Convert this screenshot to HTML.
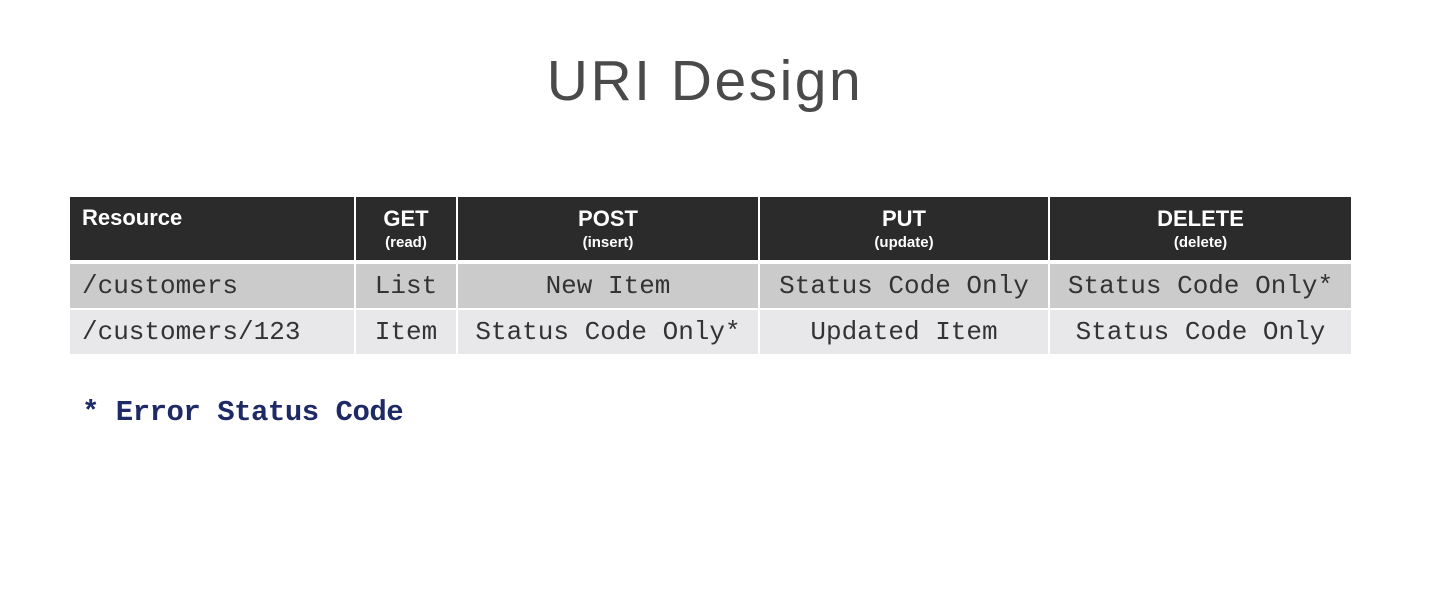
<!DOCTYPE html>
<html><head><style>
body{margin:0;width:1445px;height:599px;background:#fff;position:relative;overflow:hidden;font-family:"Liberation Sans",sans-serif}
.t{position:absolute;left:0;width:1410px;top:48px;text-align:center;font-size:57px;color:#4a4a4a;letter-spacing:2.5px}
.c{position:absolute;box-sizing:border-box;display:flex;align-items:center;justify-content:center;overflow:hidden;white-space:nowrap}
.h{background:#2b2b2b;color:#fff;flex-direction:column;font-weight:bold;line-height:1}
.h b{font-size:22px}
.h i{font-style:normal;font-size:15px;margin-top:5px}
.r1{background:#cbcbcb}
.r2{background:#e8e8ea}
.m{font-family:"Liberation Mono",monospace;font-size:26px;color:#333}
.l{justify-content:flex-start;padding-left:12px}
.fn{position:absolute;left:82px;top:396px;font-family:"Liberation Mono",monospace;font-size:29px;color:#1d2a66;font-weight:bold;letter-spacing:-0.5px}
</style></head><body>
<div class="t">URI Design</div>

<div class="c h l" style="left:70px;top:197px;width:284px;height:63px;justify-content:flex-start;align-items:flex-start;padding-top:10px"><b>Resource</b></div>
<div class="c h" style="left:356px;top:197px;width:100px;height:63px"><b>GET</b><i>(read)</i></div>
<div class="c h" style="left:458px;top:197px;width:300px;height:63px"><b>POST</b><i>(insert)</i></div>
<div class="c h" style="left:760px;top:197px;width:288px;height:63px"><b>PUT</b><i>(update)</i></div>
<div class="c h" style="left:1050px;top:197px;width:301px;height:63px"><b>DELETE</b><i>(delete)</i></div>

<div class="c r1 m l" style="left:70px;top:264px;width:284px;height:44px">/customers</div>
<div class="c r1 m" style="left:356px;top:264px;width:100px;height:44px">List</div>
<div class="c r1 m" style="left:458px;top:264px;width:300px;height:44px">New Item</div>
<div class="c r1 m" style="left:760px;top:264px;width:288px;height:44px">Status Code Only</div>
<div class="c r1 m" style="left:1050px;top:264px;width:301px;height:44px">Status Code Only*</div>

<div class="c r2 m l" style="left:70px;top:310px;width:284px;height:44px">/customers/123</div>
<div class="c r2 m" style="left:356px;top:310px;width:100px;height:44px">Item</div>
<div class="c r2 m" style="left:458px;top:310px;width:300px;height:44px">Status Code Only*</div>
<div class="c r2 m" style="left:760px;top:310px;width:288px;height:44px">Updated Item</div>
<div class="c r2 m" style="left:1050px;top:310px;width:301px;height:44px">Status Code Only</div>

<div class="fn">* Error Status Code</div>
</body></html>
